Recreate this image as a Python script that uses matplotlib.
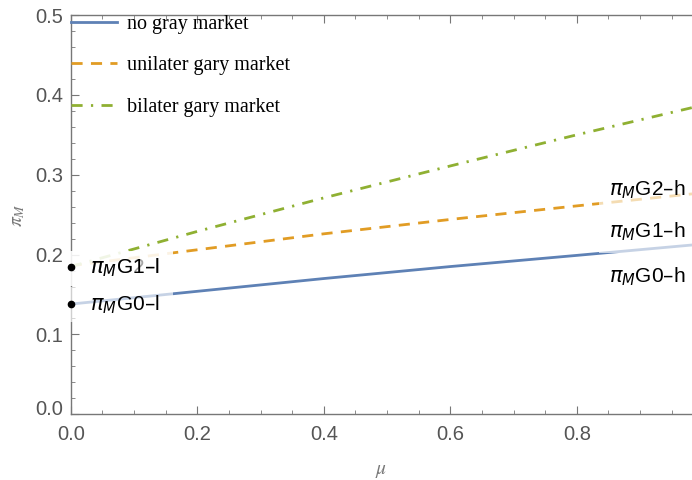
import matplotlib
matplotlib.use("Agg")
import matplotlib.pyplot as plt
from matplotlib.ticker import MultipleLocator
from matplotlib.transforms import ScaledTranslation

# data
mu = [0.0, 0.2, 0.4, 0.6, 0.8, 0.982]
no_gray = [0.138, 0.154, 0.170, 0.185, 0.199, 0.212]
unilater = [0.186, 0.206, 0.226, 0.244, 0.261, 0.276]
bilater = [0.185, 0.229, 0.271, 0.311, 0.350, 0.384]
series_names = ["no gray market", "unilater gary market", "bilater gary market"]
start_points = [0.138, 0.184]

blue = "#5E81B5"
orange = "#E19C24"
green = "#8FB032"
gray = "#555555"

fig = plt.figure(figsize=(6.92, 4.8), dpi=100)
ax = fig.add_axes([0.1022, 0.1369, 0.8978, 0.8318])

ax.plot(mu, no_gray, color=blue, lw=2.0, label=series_names[0])
ax.plot(mu, unilater, color=orange, lw=2.0, dashes=(4, 3), label=series_names[1])
ax.plot(mu, bilater, color=green, lw=2.0, dashes=(4, 3, 0.8, 3), label=series_names[2])

ax.plot([0, 0], start_points, "o", color="black", ms=4.5, clip_on=False, zorder=5)

# callout labels with translucent white boxes (they fade the lines beneath)
box = dict(facecolor="white", edgecolor="none", alpha=0.65, boxstyle="square,pad=0.3")
lab = dict(fontsize=15, family="Liberation Sans", math_fontfamily="dejavusans",
           va="center", ha="left", bbox=box, zorder=4)
ax.text(0.004, 0.137, "   $\\pi_M$G0\u2013l  ", **lab)
ax.text(0.004, 0.183, "   $\\pi_M$G2\u2013l  ", **lab)
ax.text(0.004, 0.183, "   $\\pi_M$G1\u2013l  ", **lab)

box_r = dict(box, boxstyle="square,pad=0.5")
lab_r = dict(lab, bbox=box_r)
ax.text(0.851, 0.281, "$\\pi_M$G2\u2013h", **lab_r)
ax.text(0.851, 0.229, "$\\pi_M$G1\u2013h", **lab_r)
ax.text(0.851, 0.172, "$\\pi_M$G0\u2013h", **lab_r)

ax.set_xlim(0, 0.982)
ax.set_ylim(0, 0.5)
ax.xaxis.set_major_locator(MultipleLocator(0.2))
ax.xaxis.set_minor_locator(MultipleLocator(0.05))
ax.yaxis.set_major_locator(MultipleLocator(0.1))
ax.yaxis.set_minor_locator(MultipleLocator(0.02))
ax.xaxis.set_major_formatter(lambda v, p: f"{v:.1f}")
ax.yaxis.set_major_formatter(lambda v, p: f"{v:.1f}")

for s in ["left", "bottom", "top"]:
    ax.spines[s].set_color("#777777")
    ax.spines[s].set_linewidth(1.0)
ax.spines["right"].set_visible(False)
ax.tick_params(which="both", direction="in", top=True, right=False,
               colors="#777777", labelcolor=gray, labelsize=14.5)
ax.tick_params(which="major", length=6)
ax.tick_params(which="minor", length=3)
ax.tick_params(axis="x", pad=8)
ax.tick_params(axis="y", pad=5.5)
for t in ax.get_xticklabels() + ax.get_yticklabels():
    t.set_family("Liberation Sans")

# lift the 0.0 on the y axis a little, as in the original
locs = list(ax.yaxis.get_majorticklocs())
ticks = ax.yaxis.get_major_ticks(len(locs))
for loc, tk in zip(locs, ticks):
    if abs(loc) < 1e-9:
        tk.label1.set_transform(tk.label1.get_transform()
                                + ScaledTranslation(0, 7 / 100, fig.dpi_scale_trans))

ax.set_xlabel("$\\mu$", fontsize=14, color="#777777", math_fontfamily="stix", labelpad=12)
ax.set_ylabel("$\\pi_M$", fontsize=14, color="#777777", math_fontfamily="stix", labelpad=6)

leg = ax.legend(loc="upper left", bbox_to_anchor=(0.0, 1.0), frameon=False,
                borderaxespad=0, borderpad=0, handlelength=2.3, handletextpad=0.5,
                labelspacing=1.1, prop={"family": "Liberation Serif", "size": 14.5})

fig.savefig("out.png", dpi=100)
